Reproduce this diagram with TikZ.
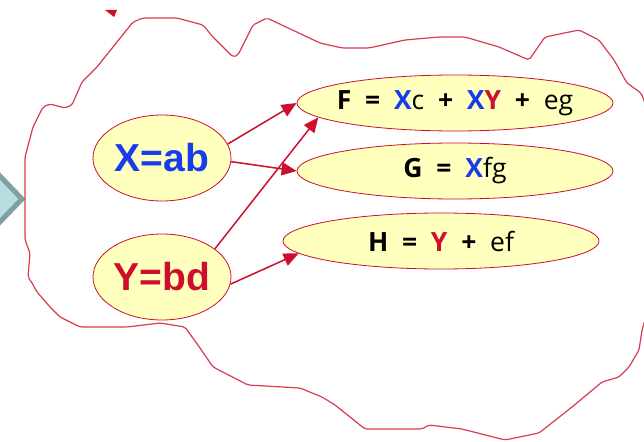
\documentclass[tikz,border=0pt]{standalone}
\usepackage{fontspec}
\setmainfont{Liberation Sans}
\newfontfamily\eqfont{Open Sans}[WordSpace=2.0]
\usetikzlibrary{arrows.meta, positioning, shapes.geometric}
\definecolor{varblue}{RGB}{25,60,235}
\definecolor{varred}{RGB}{205,15,45}
\definecolor{cloudred}{RGB}{215,60,80}
\definecolor{paleyellow}{RGB}{255,255,190}
\definecolor{chevfill}{RGB}{184,222,224}
\definecolor{chevedge}{RGB}{127,160,160}

\begin{document}
\begin{tikzpicture}[
    x=1pt, y=-1pt,
    every node/.style={ellipse, draw=varred, line width=0.8pt, fill=paleyellow, inner sep=0pt},
    varnode/.style={minimum width=138pt, minimum height=86pt, font=\fontsize{39}{42}\selectfont\bfseries},
    eqnode/.style={minimum width=316pt, minimum height=56pt, inner xsep=-18pt, font=\eqfont\fontsize{26.5}{28}\selectfont},
    link/.style={-{Triangle[length=15pt, width=13pt]}, line width=1.5pt, draw=varred},
    cloud/.style={draw=cloudred, line width=1.2pt, rounded corners=2pt}
]
\useasboundingbox (0,0) rectangle (644,441);
\clip (0,0) rectangle (644,441);

\draw[chevedge, line width=5pt, fill=chevfill] (-50,124) -- (22,199) -- (-50,274) -- cycle;
\fill[varred] (105,10) -- (117,10) -- (114,17) -- cycle;

\draw[cloud] (25,220) -- (25,157) -- (33,127) -- (43,107) -- (50,104) -- (65,108) -- (72,105)
  -- (82,82) -- (97,67) -- (133,22) -- (143,18) -- (177,18) -- (203,25) -- (213,37) -- (233,57)
  -- (238,55) -- (253,25) -- (267,18) -- (320,43) -- (342,48) -- (369,48) -- (405,40) -- (439,37)
  -- (465,37) -- (499,47) -- (529,60) -- (545,37) -- (579,30) -- (599,40) -- (614,60) -- (627,83)
  -- (641,93) -- (648,110) -- (650,200) -- (648,310) -- (642,330) -- (639,350) -- (629,367)
  -- (619,377) -- (602,382) -- (572,407) -- (539,433) -- (505,440) -- (462,429) -- (429,425)
  -- (422,429) -- (365,429) -- (335,405) -- (322,397) -- (300,388) -- (248,385) -- (213,367)
  -- (200,348) -- (185,327) -- (160,323) -- (127,327) -- (80,327) -- (60,317) -- (50,307)
  -- (37,292) -- (32,283) -- (28,277) -- (30,253) -- (25,240) -- cycle;

\node[varnode, text=varblue] (X) at (162,158) {X=ab};
\node[varnode, text=varred] (Y) at (162,277) {Y=bd};

\node[eqnode] (F) at (455,103) {\textbf{F = \textcolor{varblue}{X}}c \textbf{+ \textcolor{varblue}{X}\textcolor{varred}{Y} +} eg};
\node[eqnode] (G) at (455,171) {\textbf{G = \textcolor{varblue}{X}}fg};
\node[eqnode] (H) at (441,241) {\textbf{H = \textcolor{varred}{Y} +} ef};

\draw[link] (X.12) -- (F.west);
\draw[link] (X.-3) -- (G.west);
\draw[link] (Y.28) -- (F.186);
\draw[link] (Y.-6) -- (H.185);
\end{tikzpicture}
\end{document}
